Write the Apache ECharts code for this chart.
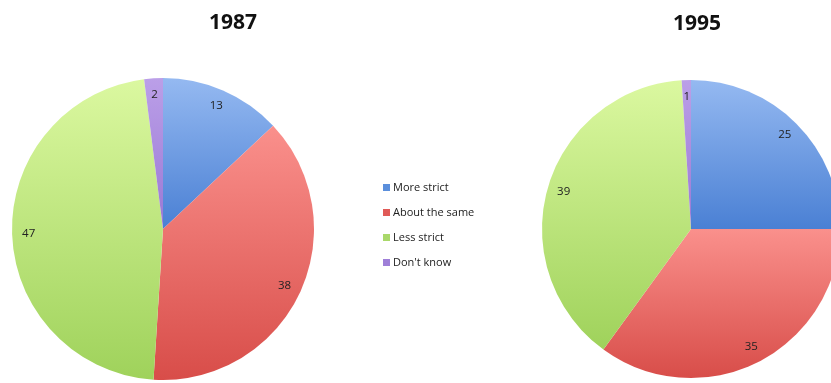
<!DOCTYPE html>
<html>
<head>
<meta charset="utf-8">
<script src="https://cdn.jsdelivr.net/npm/echarts@6/dist/echarts.min.js"></script>
<style>
html,body{margin:0;padding:0;background:#fff;}
#c{width:831px;height:383px;}
</style>
</head>
<body>
<div id="c"></div>
<script>
const categories = ['More strict', 'About the same', 'Less strict', "Don't know"];
const years = ['1987', '1995'];
const values1987 = [13, 38, 47, 2];
const values1995 = [25, 35, 39, 1];

const gradients = [
  ['#95b9f1', '#4a80d4'],
  ['#fa908c', '#d84d49'],
  ['#dbf8a0', '#9fd25b'],
  ['#bb9fe8', '#9a78d4']
];
const legendColors = ['#5b8fdc', '#e05a57', '#a9d86a', '#9f7fd8'];

function grad(i) {
  return {
    type: 'linear', x: 0, y: 0, x2: 0, y2: 1,
    colorStops: [{offset: 0, color: gradients[i][0]}, {offset: 1, color: gradients[i][1]}]
  };
}

function makeData(vals, styled) {
  return vals.map((v, i) => ({
    name: categories[i],
    value: v,
    itemStyle: styled ? {color: grad(i)} : {color: 'rgba(0,0,0,0)'}
  }));
}

const font = '"Open Sans", "Liberation Sans", sans-serif';
const geo = [
  {center: [163, 229], r: 151},
  {center: [691, 229], r: 149}
];
const valueSets = [values1987, values1995];

const series = [];
valueSets.forEach((vals, k) => {
  series.push({
    type: 'pie',
    center: geo[k].center,
    radius: [0, geo[k].r],
    startAngle: 90,
    clockwise: true,
    animation: false,
    silent: true,
    label: {show: false},
    labelLine: {show: false},
    itemStyle: {borderWidth: 0},
    data: makeData(vals, true)
  });
  series.push({
    type: 'pie',
    center: geo[k].center,
    radius: [geo[k].r * 0.74, geo[k].r],
    startAngle: 90,
    clockwise: true,
    animation: false,
    silent: true,
    legendHoverLink: false,
    label: {show: true, position: 'inside', formatter: '{c}', color: '#222', fontSize: 11.5, fontFamily: font},
    labelLine: {show: false},
    itemStyle: {borderWidth: 0},
    data: makeData(vals, false)
  });
});

const chart = echarts.init(document.getElementById('c'), null, {renderer: 'canvas'});
chart.setOption({
  backgroundColor: '#fff',
  title: [
    {text: years[0], left: 228, top: 8, textAlign: 'center', textStyle: {fontSize: 21, fontWeight: 'bold', color: '#111', fontFamily: font}},
    {text: years[1], left: 692, top: 9, textAlign: 'center', textStyle: {fontSize: 21, fontWeight: 'bold', color: '#111', fontFamily: font}}
  ],
  legend: {
    orient: 'vertical',
    left: 378,
    top: 177,
    itemWidth: 7,
    itemHeight: 7,
    itemGap: 14,
    icon: 'rect',
    selectedMode: false,
    data: categories.map((c, i) => ({name: c, itemStyle: {color: legendColors[i]}})),
    textStyle: {fontSize: 11, color: '#222', fontFamily: font, padding: [0, 0, 0, -2]}
  },
  series: series
});
</script>
</body>
</html>
